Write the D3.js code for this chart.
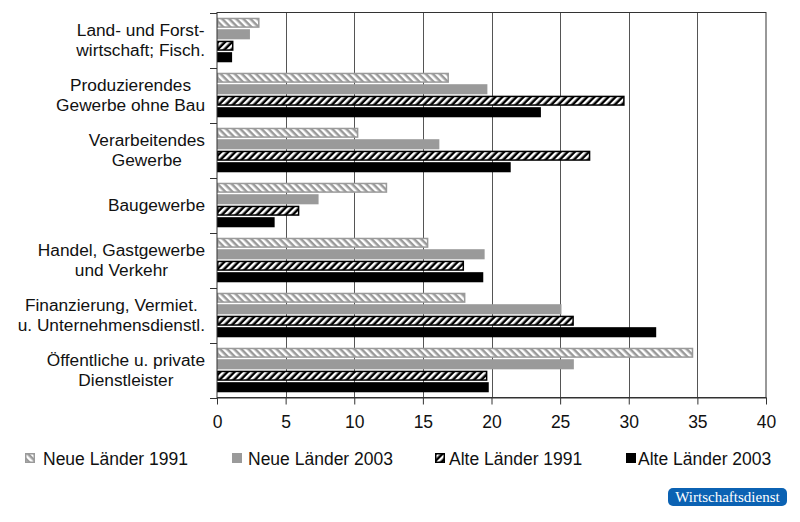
<!DOCTYPE html>
<html>
<head>
<meta charset="utf-8">
<script src="https://cdn.jsdelivr.net/npm/d3@7"></script>
<style>
  body { margin: 0; background: #fff; }
  svg { display: block; font-family: "Liberation Sans", Arial, sans-serif; }
</style>
</head>
<body>
<div id="chart"></div>
<script>
// Categories (each label split into its display lines)
const categories = [
    ["Land- und Forst-", "wirtschaft; Fisch."],
    ["Produzierendes", "Gewerbe ohne Bau"],
    ["Verarbeitendes", "Gewerbe"],
    ["Baugewerbe"],
    ["Handel, Gastgewerbe", "und Verkehr"],
    ["Finanzierung, Vermiet.", "u. Unternehmensdienstl."],
    ["Öffentliche u. private", "Dienstleister"]
];

const seriesNames = ["Neue Länder 1991", "Neue Länder 2003", "Alte Länder 1991", "Alte Länder 2003"];

// Values per series, same order as categories
const neue1991 = [3.1, 16.9, 10.3, 12.4, 15.4, 18.1, 34.7];
const neue2003 = [2.4, 19.7, 16.2, 7.4, 19.5, 25.1, 26.0];
const alte1991 = [1.2, 29.7, 27.2, 6.0, 18.0, 26.0, 19.7];
const alte2003 = [1.1, 23.6, 21.4, 4.2, 19.4, 32.0, 19.8];

const xTicks = [0, 5, 10, 15, 20, 25, 30, 35, 40];

const width = 800, height = 522;
const plotLeft = 217, plotRight = 766, plotTop = 12.5, plotBottom = 397.5;

const svg = d3.select("#chart").append("svg")
    .attr("width", width)
    .attr("height", height);

// Patterns for the striped series
const defs = svg.append("defs");
function stripes(id, bg, fg, angle) {
    const p = defs.append("pattern")
        .attr("id", id)
        .attr("patternUnits", "userSpaceOnUse")
        .attr("width", 5)
        .attr("height", 5)
        .attr("patternTransform", `rotate(${angle})`);
    p.append("rect").attr("width", 5).attr("height", 5).attr("fill", bg);
    p.append("rect").attr("width", 2.5).attr("height", 5).attr("fill", fg);
}
stripes("neue91", "#9a9a9a", "#fff", -45);
stripes("alte91", "#000", "#fff", 45);

const styles = [
    { fill: "url(#neue91)", stroke: "#9a9a9a" },
    { fill: "#9a9a9a", stroke: "none" },
    { fill: "url(#alte91)", stroke: "#000" },
    { fill: "#000", stroke: "none" }
];

const catKeys = categories.map(d => d.join(" "));
const series = [neue1991, neue2003, alte1991, alte2003];

// Scales
let x = d3.scaleLinear().domain([0, 40]).range([plotLeft, plotRight]);

let y = d3.scaleBand()
    .domain(catKeys)
    .range([plotTop, plotBottom])
    .paddingInner(0.19)
    .paddingOuter(0.095);

let ySub = d3.scaleBand()
    .domain(d3.range(series.length))
    .range([0, y.bandwidth()])
    .paddingInner(0.12);

// Grid lines
svg.append("g")
    .selectAll("line")
    .data(xTicks.slice(1, -1))
    .enter().append("line")
    .attr("x1", d => Math.round(x(d)) + 0.5)
    .attr("x2", d => Math.round(x(d)) + 0.5)
    .attr("y1", plotTop)
    .attr("y2", plotBottom)
    .attr("stroke", "#555")
    .attr("stroke-width", 1);

// Bars
series.forEach((vals, si) => {
    const inset = styles[si].stroke === "none" ? 0 : 0.75;
    svg.append("g")
        .selectAll("rect")
        .data(vals)
        .enter().append("rect")
        .attr("x", x(0) + inset)
        .attr("y", (d, i) => y(catKeys[i]) + ySub(si) + inset)
        .attr("width", d => x(d) - x(0) - 2 * inset)
        .attr("height", ySub.bandwidth() - 2 * inset)
        .attr("fill", styles[si].fill)
        .attr("stroke", styles[si].stroke)
        .attr("stroke-width", 1.5);
});

// Plot frame
svg.append("rect")
    .attr("x", plotLeft)
    .attr("y", plotTop)
    .attr("width", plotRight - plotLeft)
    .attr("height", plotBottom - plotTop)
    .attr("fill", "none")
    .attr("stroke", "#333")
    .attr("stroke-width", 1);

// Left axis ticks at category boundaries
const boundaries = d3.range(categories.length + 1).map(i => plotTop + i * y.step());
svg.append("g")
    .selectAll("line")
    .data(boundaries)
    .enter().append("line")
    .attr("x1", plotLeft - 7)
    .attr("x2", plotLeft)
    .attr("y1", d => Math.round(d) + 0.5)
    .attr("y2", d => Math.round(d) + 0.5)
    .attr("stroke", "#333");

// Bottom axis
const xAxis = svg.append("g")
    .attr("transform", `translate(0, ${plotBottom})`)
    .call(d3.axisBottom(x).tickValues(xTicks).tickSize(7).tickPadding(11).tickSizeOuter(0));
xAxis.select(".domain").attr("stroke", "#333");
xAxis.selectAll(".tick line").attr("stroke", "#333");
xAxis.selectAll("text")
    .attr("font-size", "17.5px")
    .attr("font-family", "Liberation Sans, Arial, sans-serif")
    .attr("fill", "#111");

// Category labels: lines centred on each other, block right-aligned
const labelRight = 205;
const lineGap = 20.5;
categories.forEach((lines, i) => {
    const cy = y(catKeys[i]) + y.bandwidth() / 2;
    const g = svg.append("g");
    const texts = g.selectAll("text")
        .data(lines)
        .enter().append("text")
        .attr("text-anchor", "middle")
        .attr("font-size", "17.3px")
        .attr("fill", "#111")
        .attr("y", (d, j) => cy + 6 + (j - (lines.length - 1) / 2) * lineGap)
        .text(d => d);
    let maxW = d3.max(texts.nodes(), n => n.getComputedTextLength());
    g.attr("transform", `translate(${labelRight - maxW / 2}, 0)`);
});

// Legend
const legendSwatchX = [25, 232, 435, 626];
const legendTextX = [43, 248, 449, 638];
const legend = svg.append("g");
seriesNames.forEach((name, i) => {
    const inset = styles[i].stroke !== "none" ? 0.75 : 0;
    legend.append("rect")
        .attr("x", legendSwatchX[i] + inset)
        .attr("y", 453 + inset)
        .attr("width", 10 - 2 * inset)
        .attr("height", 10 - 2 * inset)
        .attr("fill", styles[i].fill)
        .attr("stroke", styles[i].stroke)
        .attr("stroke-width", 1.5);
    legend.append("text")
        .attr("x", legendTextX[i])
        .attr("y", 465)
        .attr("font-size", "17.5px")
        .attr("fill", "#111")
        .text(name);
});

// Source badge
const badge = svg.append("g");
badge.append("rect")
    .attr("x", 668)
    .attr("y", 488)
    .attr("width", 119)
    .attr("height", 18)
    .attr("rx", 5)
    .attr("fill", "#0b62b3");
badge.append("text")
    .attr("x", 727.5)
    .attr("y", 502)
    .attr("text-anchor", "middle")
    .attr("font-family", "Liberation Serif, Times New Roman, serif")
    .attr("font-size", "15px")
    .attr("fill", "#fff")
    .text("Wirtschaftsdienst");
</script>
</body>
</html>
